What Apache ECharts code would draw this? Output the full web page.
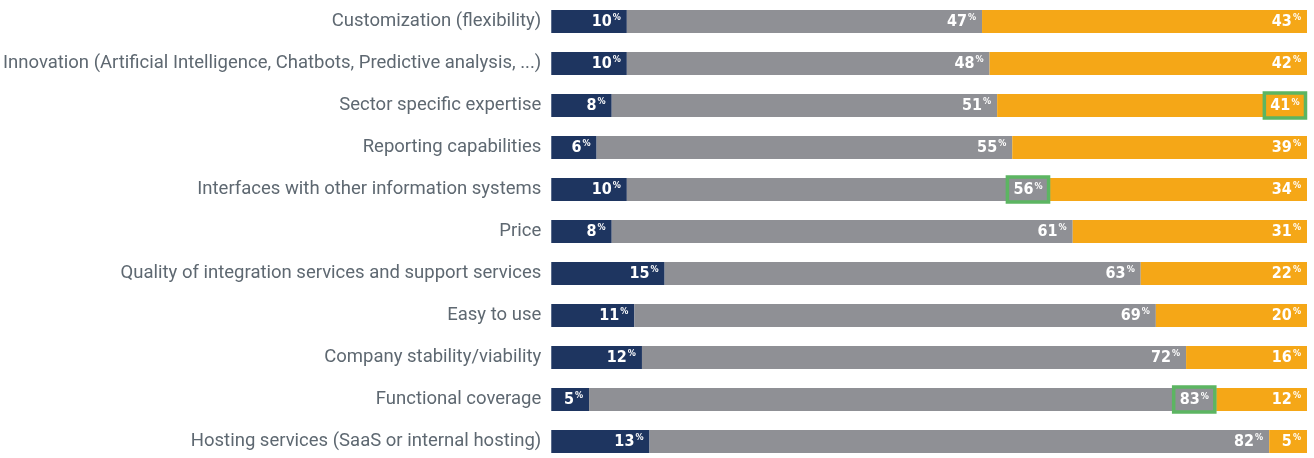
<!DOCTYPE html>
<html><head><meta charset="utf-8">
<script src="https://cdn.jsdelivr.net/npm/echarts@6/dist/echarts.min.js"></script>
<style>html,body{margin:0;padding:0;background:#fff}#c{width:1314px;height:458px}</style>
</head><body><div id="c"></div>
<script>
const categories = [
  "Customization (flexibility)",
  "Innovation (Artificial Intelligence, Chatbots, Predictive analysis, ...)",
  "Sector specific expertise",
  "Reporting capabilities",
  "Interfaces with other information systems",
  "Price",
  "Quality of integration services and support services",
  "Easy to use",
  "Company stability/viability",
  "Functional coverage",
  "Hosting services (SaaS or internal hosting)"
];
const navyValues   = [10, 10, 8, 6, 10, 8, 15, 11, 12, 5, 13];
const grayValues   = [47, 48, 51, 55, 56, 61, 63, 69, 72, 83, 82];
const orangeValues = [43, 42, 41, 39, 34, 31, 22, 20, 16, 12, 5];
// highlighted labels: [seriesIndex, categoryIndex]
const highlighted = [[2, 2], [1, 4], [1, 9]];

const colors = ['#1e3560', '#8f9095', '#f5a717'];
const rich = {
  v: { color: '#fff', fontFamily: 'DejaVu Sans Condensed', fontWeight: 'bold', fontSize: 16 },
  p: { color: '#fff', fontFamily: 'DejaVu Sans Condensed', fontWeight: 'bold', fontSize: 9, padding: [0, 0, 7, 1] }
};
function mkSeries(vals, si) {
  return {
    type: 'bar', stack: 't', barWidth: 23,
    itemStyle: { color: colors[si] },
    label: {
      show: true, position: 'insideRight', distance: 6,
      formatter: p => '{v|' + p.value + '}{p|%}', rich: rich
    },
    data: vals.map((v, ci) => {
      const h = highlighted.some(h => h[0] === si && h[1] === ci);
      if (!h) return v;
      return { value: v, label: { distance: 1.5, borderColor: '#5cb562', borderWidth: 3.5, padding: [5, 6, 4, 6] } };
    })
  };
}
const chart = echarts.init(document.getElementById('c'));
chart.setOption({
  animation: false,
  grid: { left: 551, right: 7, top: 21.5, bottom: 16.5 },
  xAxis: { type: 'value', min: 0, max: 100, show: false },
  yAxis: {
    type: 'category', data: categories, inverse: true, boundaryGap: false,
    axisLine: { show: false }, axisTick: { show: false }, splitLine: { show: false },
    axisLabel: { margin: 10, color: '#5e6871', fontSize: 18.5, fontFamily: 'Roboto' }
  },
  series: [mkSeries(navyValues, 0), mkSeries(grayValues, 1), mkSeries(orangeValues, 2)]
});
</script></body></html>
